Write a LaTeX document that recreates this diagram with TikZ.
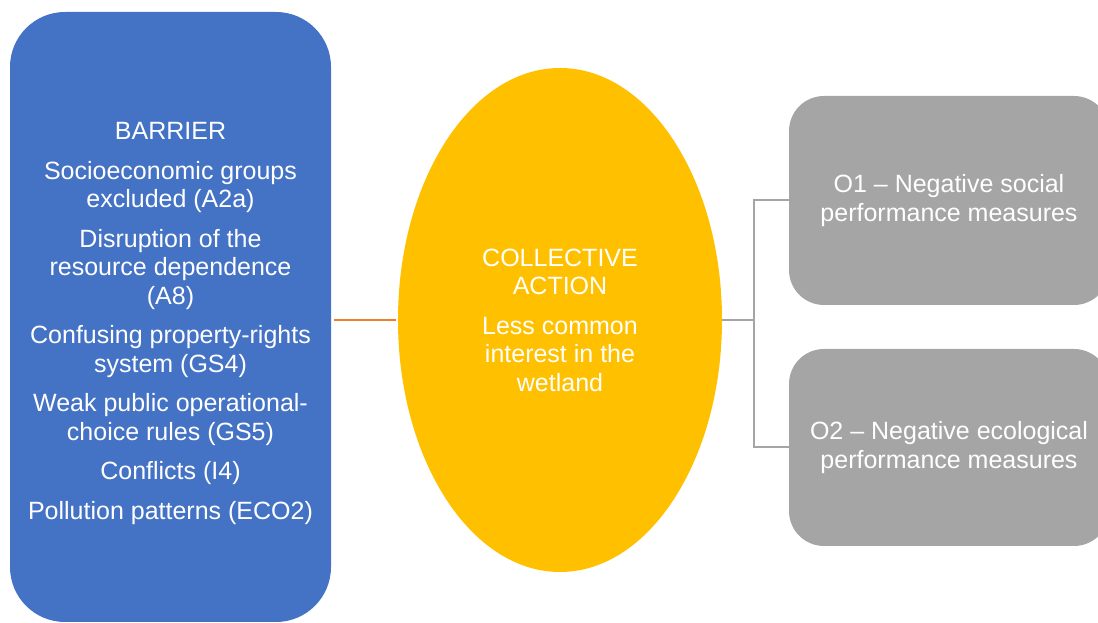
\documentclass[tikz,border=0pt]{standalone}
\usepackage{fontspec}
\setmainfont{Liberation Sans}
\usetikzlibrary{shapes.geometric}
\definecolor{barblue}{HTML}{4472C4}
\definecolor{actyellow}{HTML}{FFC000}
\definecolor{outgray}{HTML}{A5A5A5}
\definecolor{linkorange}{HTML}{ED7D31}
\begin{document}
\begin{tikzpicture}[x=1pt,y=1pt,
 txt/.style={text=white,align=center,inner sep=0pt,font=\fontsize{25}{28.5}\selectfont},
 outbox/.style={txt,fill=outgray,rounded corners=35pt,minimum width=320pt},
 link/.style={line width=2pt,#1}]
\clip (0,0) rectangle (1098,623);
% barrier, action, outcomes
\node[txt,fill=barblue,rounded corners=55pt,minimum width=321pt,minimum height=610pt] (barrier) at (170.5,306)
 {\rule{0pt}{30pt}BARRIER\\[11pt]Socioeconomic groups\\excluded (A2a)\\[11pt]Disruption of the\\resource dependence\\(A8)\\[11pt]Confusing property-rights\\system (GS4)\\[11pt]Weak public operational-\\choice rules (GS5)\\[11pt]Conflicts (I4)\\[11pt]Pollution patterns (ECO2)};
\node[txt,ellipse,fill=actyellow,minimum width=324pt,minimum height=504pt] (action) at (560,303)
 {COLLECTIVE\\ACTION\\[11pt]Less common\\interest in the\\wetland};
\node[outbox,minimum height=209pt] (out1) at (949,422.5) {O1 -- Negative social\\performance measures};
\node[outbox,minimum height=197pt] (out2) at (949,175.5) {O2 -- Negative ecological\\performance measures};
\coordinate (fork) at (754,303);
\draw[link=linkorange,shorten <=3pt,shorten >=2pt] (barrier.east |- action.west) -- (action.west);
\draw[link=outgray] (action.east) -- (fork);
\foreach \o in {out1,out2} \draw[link=outgray] (fork) |- (\o.west);
\end{tikzpicture}
\end{document}
